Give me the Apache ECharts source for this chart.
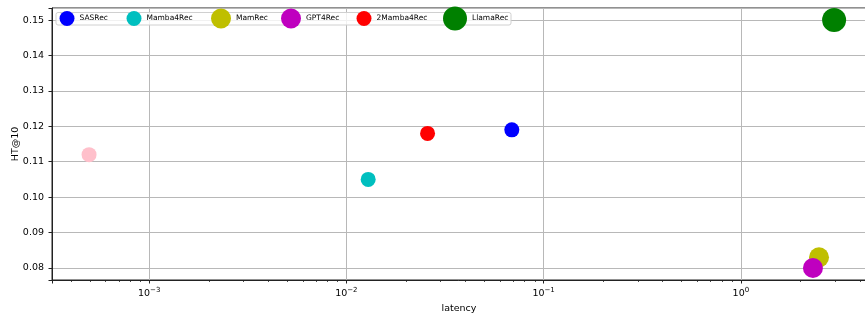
<!DOCTYPE html>
<html>
<head>
<meta charset="utf-8">
<script src="https://cdn.jsdelivr.net/npm/echarts@6/dist/echarts.min.js"></script>
<style>
  html, body { margin: 0; padding: 0; background: #fff; }
  #chart { width: 865px; height: 318px; }
</style>
</head>
<body>
<div id="chart"></div>
<script>
// data
const models = ['SASRec', 'Mamba4Rec', 'MamRec', 'GPT4Rec', '2Mamba4Rec', 'LlamaRec']
const latency = [0.069, 0.0129, 2.49, 2.32, 0.0258, 2.97]
const hitAt10 = [0.119, 0.105, 0.083, 0.080, 0.118, 0.150]
// unlabeled pink point (no legend entry)
const extraLatency = [0.000496]
const extraHit = [0.112]
const xTickLabels = ['10^-3', '10^-2', '10^-1', '10^0']
const yTickLabels = ['0.08', '0.09', '0.10', '0.11', '0.12', '0.13', '0.14', '0.15']

// styling per model
const colors = ['#0000ff', '#00bfbf', '#bfbf00', '#bf00bf', '#ff0000', '#008000']
const sizes = [15, 15, 20, 20, 15, 24]
const legendCenters = [67, 134, 221, 291, 364, 455]

const X_MIN = 3.218e-4
const X_MAX = 4.31
const Y_MIN = 0.0766
const Y_MAX = 0.1534
const FONT = 'DejaVu Sans'

// minor ticks of the log axis (2..9 x 10^k)
let minorTicks = []
for (let k = -4; k <= 0; k++) {
  for (let m = 2; m <= 9; m++) {
    let v = m * Math.pow(10, k)
    if (v > X_MIN && v < X_MAX) minorTicks.push(v)
  }
}

let chart = echarts.init(document.getElementById('chart'), null, { renderer: 'canvas' })

let series = [{
  name: 'extra',
  type: 'scatter',
  symbolSize: 15,
  itemStyle: { color: '#ffc0cb', opacity: 1 },
  data: extraLatency.map((v, i) => [v, extraHit[i]]),
  z: 2
}]
models.forEach((name, i) => {
  series.push({
    name: name,
    type: 'scatter',
    symbolSize: sizes[i],
    itemStyle: { color: colors[i], opacity: 1 },
    data: [[latency[i], hitAt10[i]]],
    z: 2 + i
  })
})
series.push({
  type: 'custom',
  silent: true,
  clip: false,
  data: minorTicks.map(v => [v, Y_MIN]),
  renderItem: function (params, api) {
    let p = api.coord([api.value(0), api.value(1)])
    let x = Math.round(p[0]) + 0.5
    return {
      type: 'line',
      shape: { x1: x, y1: p[1], x2: x, y2: p[1] + 2 },
      style: { stroke: '#222', lineWidth: 0.8 }
    }
  },
  z: 10
})

let legends = models.map((name, i) => ({
  data: [name],
  icon: 'circle',
  itemWidth: sizes[i],
  itemHeight: sizes[i],
  left: legendCenters[i] - sizes[i] / 2,
  top: 18.5 - sizes[i] / 2,
  padding: 0,
  selectedMode: false,
  z: 20,
  textStyle: { fontFamily: FONT, fontSize: 7.5, color: '#000' }
}))

let option = {
  animation: false,
  backgroundColor: '#fff',
  grid: {
    left: 52,
    top: 8,
    right: -1,
    bottom: 38,
    containLabel: false,
    outerBoundsMode: 'none',
    show: true,
    borderColor: '#222',
    borderWidth: 1
  },
  legend: legends,
  graphic: [{
    type: 'rect',
    z: 15,
    shape: { x: 56, y: 12.5, width: 455, height: 12.5, r: 2 },
    style: { fill: 'rgba(255,255,255,0.8)', stroke: '#d0d0d0', lineWidth: 1 }
  }],
  xAxis: {
    type: 'log',
    logBase: 10,
    min: X_MIN,
    max: X_MAX,
    name: 'latency',
    nameLocation: 'middle',
    nameGap: 24,
    nameMoveOverlap: false,
    nameTextStyle: { fontFamily: FONT, fontSize: 9.5, color: '#000' },
    axisLine: { lineStyle: { color: '#222', width: 1 } },
    axisTick: { length: 3.5, lineStyle: { color: '#222' } },
    splitLine: { show: true, lineStyle: { color: '#b8b8b8', width: 1 } },
    axisLabel: {
      margin: 7,
      showMinLabel: true,
      showMaxLabel: true,
      formatter: function (v) {
        let e = Math.log10(v)
        if (Math.abs(e - Math.round(e)) > 1e-6) return ''
        let lab = xTickLabels.find(t => Number(t.split('^')[1]) === Math.round(e))
        if (!lab) return ''
        let exp = lab.split('^')[1].replace('-', '\u2212')
        return '{b|10}{s|' + exp + '}'
      },
      rich: {
        b: { fontFamily: FONT, fontSize: 9.5, color: '#000' },
        s: { fontFamily: FONT, fontSize: 7, color: '#000', padding: [0, 0, 7, 0] }
      }
    }
  },
  yAxis: {
    type: 'value',
    min: Y_MIN,
    max: Y_MAX,
    splitNumber: 8,
    minInterval: 0.01,
    maxInterval: 0.01,
    name: 'HT@10',
    nameLocation: 'middle',
    nameGap: 31,
    nameMoveOverlap: false,
    nameTextStyle: { fontFamily: FONT, fontSize: 9.5, color: '#000' },
    axisLine: { show: true, lineStyle: { color: '#222', width: 1 } },
    axisTick: { show: true, length: 3.5, lineStyle: { color: '#222' } },
    splitLine: { show: true, lineStyle: { color: '#b8b8b8', width: 1 } },
    axisLabel: {
      margin: 8,
      fontFamily: FONT,
      fontSize: 9.5,
      color: '#000',
      formatter: function (v) {
        let s = v.toFixed(2)
        if (Math.abs(v * 100 - Math.round(v * 100)) > 1e-6) return ''
        return yTickLabels.indexOf(s) >= 0 ? s : ''
      }
    }
  },
  series: series
}

chart.setOption(option)
</script>
</body>
</html>
